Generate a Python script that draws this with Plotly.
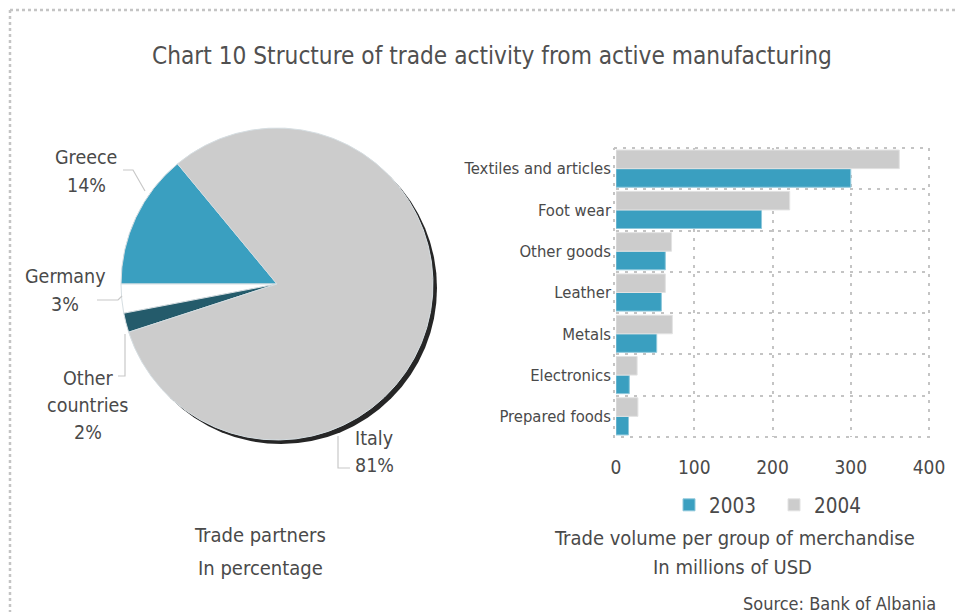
import plotly.graph_objects as go

W, H = 955, 612

# Trade partners (share of active-manufacturing trade, %)
partners = ["Greece", "Germany", "Other countries", "Italy"]
partner_share = [14, 3, 2, 81]
partner_colors = ["#3a9fc0", "#ffffff", "#245b6b", "#cccccc"]

# Trade volume per group of merchandise, millions of USD
groups = ["Textiles and articles", "Foot wear", "Other goods", "Leather",
          "Metals", "Electronics", "Prepared foods"]
vol_2003 = [300, 186, 63, 58, 52, 17, 16]
vol_2004 = [362, 222, 71, 63, 72, 27, 28]
x_ticks = [0, 100, 200, 300, 400]

FONT = "Liberation Sans Narrow, DejaVu Sans Condensed, Arial Narrow, sans-serif"
TXT = "#4a4a4a"
BLUE = "#3a9fc0"
GREY = "#cccccc"
GRID = "#c4c4c4"
DASH = "3px,6px"


def fx(x):
    return x / W


def fy(y):
    return 1 - y / H


fig = go.Figure()

# pie geometry
cx, cy, r = 277, 284, 156


def pie_domain(dx=0.0, dy=0.0):
    return dict(x=[fx(cx - r + dx), fx(cx + r + dx)],
                y=[fy(cy + r + dy), fy(cy - r + dy)])


# drop shadow under the pie, offset down and to the right
fig.add_trace(go.Pie(
    values=[1], labels=["shadow"], marker=dict(colors=["#262626"], line=dict(width=0)),
    textinfo="none", hoverinfo="skip", showlegend=False, sort=False,
    domain=pie_domain(4, 4),
))

# first slice sits just above 9 o'clock, the rest follow counterclockwise
fig.add_trace(go.Pie(
    values=partner_share, labels=partners, sort=False,
    direction="counterclockwise", rotation=-90,
    marker=dict(colors=partner_colors, line=dict(color="#d6dee2", width=1)),
    textinfo="none", showlegend=False,
    domain=pie_domain(),
))

# bars: 2003 below, 2004 above within each group
fig.add_trace(go.Bar(
    y=groups, x=vol_2003, orientation="h", name="2003",
    marker=dict(color=BLUE, line=dict(color="#8fc8db", width=1)),
))
fig.add_trace(go.Bar(
    y=groups, x=vol_2004, orientation="h", name="2004",
    marker=dict(color=GREY, line=dict(color="#e2e2e2", width=1)),
))

x0p, x1p, y0p, y1p = 616, 929, 148, 437

fig.update_layout(
    width=W, height=H, autosize=False,
    margin=dict(l=0, r=0, t=0, b=0, autoexpand=False),
    paper_bgcolor="white", plot_bgcolor="white",
    font=dict(family=FONT, color=TXT, size=14),
    barmode="group", bargap=0.1, bargroupgap=0.0,
    xaxis=dict(
        domain=[fx(x0p), fx(x1p)], range=[0, 400], tickvals=x_ticks,
        showgrid=True, gridcolor=GRID, griddash=DASH, gridwidth=2,
        zeroline=False, showline=False, ticks="", automargin=False,
        tickfont=dict(size=19, color=TXT), ticklabelstandoff=17,
    ),
    yaxis=dict(
        domain=[fy(y1p), fy(y0p)], type="category",
        categoryorder="array", categoryarray=groups[::-1],
        tickson="boundaries", showgrid=True, gridcolor=GRID,
        griddash=DASH, gridwidth=2, zeroline=False, showline=False,
        ticks="", automargin=False,
        tickfont=dict(size=16.5, color=TXT), ticklabelstandoff=4,
    ),
    legend=dict(
        orientation="h", x=fx(669), y=fy(505), xanchor="left", yanchor="middle",
        font=dict(size=20.5, color=TXT), itemwidth=30, bgcolor="rgba(0,0,0,0)",
        entrywidth=60, entrywidthmode="pixels", traceorder="normal",
    ),
)

annotations = [
    dict(text="Chart 10 Structure of trade activity from active manufacturing",
         x=fx(492), y=fy(56), font=dict(size=24.2, color="#505050")),
    dict(text="Trade partners", x=fx(260), y=fy(535), font=dict(size=20, color=TXT)),
    dict(text="In percentage", x=fx(260), y=fy(568), font=dict(size=20, color=TXT)),
    dict(text="Trade volume per group of merchandise", x=fx(734), y=fy(538),
         font=dict(size=20, color=TXT)),
    dict(text="In millions of USD", x=fx(732), y=fy(567), font=dict(size=20, color=TXT)),
    dict(text="Source: Bank of Albania", x=fx(938), y=fy(603), xanchor="right",
         font=dict(size=18, color=TXT)),
]

# pie labels: name lines followed by the share
label_pos = {
    "Greece": (86, 158),
    "Germany": (65, 277),
    "Other countries": (88, 378),
    "Italy": (374, 438),
}
for name, share in zip(partners, partner_share):
    lx, ly = label_pos[name]
    lines = name.split(" ") + [f"{share}%"]
    for i, line in enumerate(lines):
        annotations.append(dict(text=line, x=fx(lx), y=fy(ly + 27 * i),
                                font=dict(size=19.5, color=TXT)))

for a in annotations:
    a.setdefault("xref", "paper")
    a.setdefault("yref", "paper")
    a.setdefault("showarrow", False)
    a.setdefault("xanchor", "center")
    a.setdefault("yanchor", "middle")
fig.update_layout(annotations=annotations)


def pline(pts, color="#c8c8c8", width=1.2, dash="solid"):
    path = "M " + " L ".join(f"{fx(x):.5f},{fy(y):.5f}" for x, y in pts)
    return dict(type="path", path=path, xref="paper", yref="paper",
                line=dict(color=color, width=width, dash=dash))


shapes = [
    # leader lines
    pline([(123, 170), (133, 170), (145, 191)]),
    pline([(97, 300), (118, 300), (122, 296)]),
    pline([(118, 376), (125, 376), (125, 334)]),
    pline([(350, 468), (338, 468), (338, 436)]),
    # dotted frame around the bar plot
    pline([(x0p - 2, y0p), (x1p, y0p), (x1p, y1p), (x0p - 2, y1p), (x0p - 2, y0p)],
          color=GRID, width=2, dash=DASH),
    # dotted page border
    dict(type="line", xref="paper", yref="paper", x0=fx(10), x1=1, y0=fy(10), y1=fy(10),
         line=dict(color="#c4c4c4", width=2.5, dash="dot")),
    pline([(10, 10), (10, 612)], color="#c4c4c4", width=2.5, dash="dot"),
]
fig.update_layout(shapes=shapes)

fig.write_html("out.html")
